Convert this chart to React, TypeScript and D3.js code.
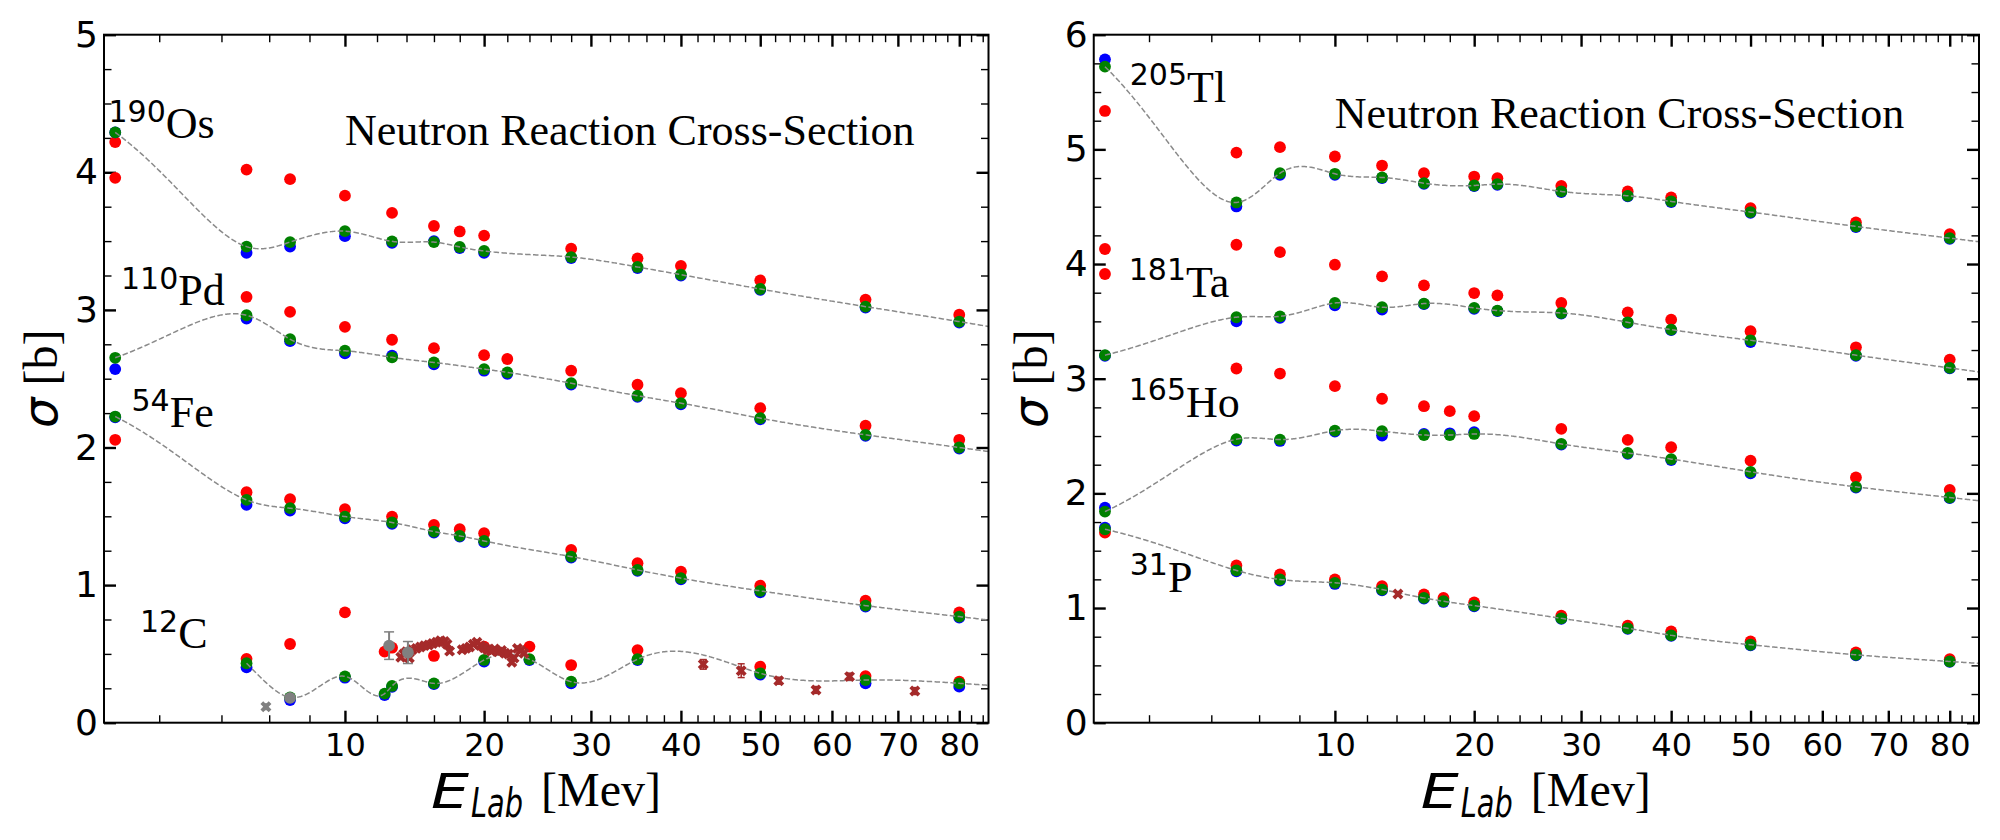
"use client";

import { useEffect, useRef } from "react";
import * as d3 from "d3";

// energies in MeV, cross-sections in barn

// 190Os
const osEnergy = [1, 5, 7, 10, 13, 16, 18, 20, 28, 35, 40, 50, 65, 80];
const osRed = [4.22, 4.02, 3.95, 3.83, 3.705, 3.61, 3.57, 3.54, 3.445, 3.375, 3.32, 3.215, 3.075, 2.965];
const osBlue = [4.29, 3.415, 3.46, 3.536, 3.488, 3.5, 3.45, 3.415, 3.377, 3.304, 3.249, 3.145, 3.017, 2.908];
const osGreen = [4.29, 3.46, 3.493, 3.572, 3.498, 3.493, 3.457, 3.428, 3.384, 3.312, 3.256, 3.152, 3.024, 2.915];

// 110Pd
const pdEnergy = [1, 5, 7, 10, 13, 16, 20, 22, 28, 35, 40, 50, 65, 80];
const pdRed = [3.96, 3.094, 2.986, 2.877, 2.783, 2.722, 2.671, 2.643, 2.558, 2.456, 2.395, 2.286, 2.158, 2.056];
const pdBlue = [2.57, 2.937, 2.773, 2.684, 2.667, 2.604, 2.558, 2.536, 2.458, 2.368, 2.314, 2.205, 2.084, 1.992];
const pdGreen = [2.652, 2.961, 2.787, 2.703, 2.655, 2.618, 2.57, 2.546, 2.467, 2.376, 2.322, 2.213, 2.092, 2.0];

// 54Fe
const feEnergy = [1, 5, 7, 10, 13, 16, 18, 20, 28, 35, 40, 50, 65, 80];
const feRed = [2.056, 1.675, 1.624, 1.552, 1.498, 1.438, 1.406, 1.377, 1.256, 1.159, 1.098, 0.996, 0.887, 0.802];
const feBlue = [2.22, 1.583, 1.542, 1.486, 1.445, 1.382, 1.353, 1.312, 1.2, 1.103, 1.042, 0.948, 0.844, 0.764];
const feGreen = [2.225, 1.619, 1.559, 1.498, 1.455, 1.389, 1.358, 1.321, 1.207, 1.11, 1.05, 0.958, 0.851, 0.771];

// 12C
const cEnergy = [5, 7, 10, 12.5, 13, 16, 20, 24, 28, 35, 50, 65, 80];
const cRed = [0.464, 0.572, 0.802, 0.516, 0.545, 0.485, 0.553, 0.553, 0.419, 0.528, 0.407, 0.339, 0.298];
const cBlue = [0.403, 0.165, 0.327, 0.201, 0.26, 0.28, 0.444, 0.455, 0.286, 0.455, 0.349, 0.286, 0.262];
const cGreen = [0.432, 0.184, 0.337, 0.211, 0.267, 0.286, 0.456, 0.461, 0.298, 0.461, 0.359, 0.31, 0.286];

// 12C measurements (brown crosses)
const cExpEnergy = [
  13.6, 13.8, 14.0, 14.2, 14.4, 14.7, 15.0, 15.3, 15.6, 15.9, 16.2, 16.5, 16.8, 17.0, 17.2,
  18.2, 18.5, 18.8, 19.1, 19.4, 19.7, 20.0, 20.3, 20.6, 20.9, 21.2, 21.5, 21.8, 22.1, 22.4,
  22.6, 22.9, 23.2, 23.5, 42.7, 47.5, 52.5, 57.7, 62.6, 72.7,
];
const cExpSigma = [
  0.475, 0.5, 0.515, 0.47, 0.53, 0.54, 0.55, 0.56, 0.565, 0.575, 0.585, 0.595, 0.59, 0.57, 0.52,
  0.53, 0.54, 0.55, 0.57, 0.585, 0.56, 0.545, 0.53, 0.52, 0.535, 0.515, 0.525, 0.505, 0.5, 0.44,
  0.47, 0.54, 0.525, 0.505, 0.424, 0.378, 0.305, 0.238, 0.335, 0.23,
];
const cExpError = [
  0.015, 0.015, 0.015, 0.015, 0.015, 0.015, 0.015, 0.015, 0.015, 0.015, 0.015, 0.015, 0.015, 0.015, 0.015,
  0.015, 0.015, 0.015, 0.015, 0.015, 0.015, 0.015, 0.015, 0.015, 0.015, 0.015, 0.015, 0.015, 0.015, 0.015,
  0.015, 0.015, 0.015, 0.015, 0.035, 0.05, 0.025, 0.025, 0.025, 0.025,
];

// 12C measurements (grey)
const cGreyEnergy = [7, 12.8, 14.1];
const cGreySigma = [0.18, 0.56, 0.51];
const cGreyError = [0.0, 0.1, 0.08];
const cGreyCrossEnergy = [5.85];
const cGreyCrossSigma = [0.116];
const cGreyCrossError = [0.02];

// 205Tl
const tlEnergy = [1, 5, 7, 10, 13, 16, 20, 22, 28, 35, 40, 50, 65, 80];
const tlRed = [5.335, 4.972, 5.019, 4.938, 4.859, 4.792, 4.763, 4.749, 4.682, 4.633, 4.581, 4.488, 4.363, 4.261];
const tlBlue = [5.785, 4.502, 4.778, 4.778, 4.75, 4.7, 4.68, 4.69, 4.628, 4.59, 4.54, 4.447, 4.322, 4.22];
const tlGreen = [5.721, 4.537, 4.792, 4.787, 4.755, 4.705, 4.685, 4.697, 4.633, 4.595, 4.546, 4.453, 4.328, 4.226];

// 181Ta
const taEnergy = [1, 5, 7, 10, 13, 16, 20, 22, 28, 35, 40, 50, 65, 80];
const taRed = [4.131, 4.168, 4.104, 3.994, 3.893, 3.814, 3.747, 3.727, 3.66, 3.579, 3.515, 3.414, 3.274, 3.167];
const taBlue = [3.2, 3.501, 3.53, 3.64, 3.602, 3.65, 3.61, 3.59, 3.568, 3.487, 3.423, 3.32, 3.2, 3.09];
const taGreen = [3.205, 3.536, 3.544, 3.66, 3.623, 3.655, 3.617, 3.594, 3.573, 3.492, 3.428, 3.335, 3.205, 3.094];

// 165Ho
const hoEnergy = [1, 5, 7, 10, 13, 16, 18, 20, 28, 35, 40, 50, 65, 80];
const hoRed = [3.913, 3.089, 3.045, 2.935, 2.825, 2.76, 2.717, 2.673, 2.562, 2.466, 2.402, 2.285, 2.139, 2.031];
const hoBlue = [1.876, 2.46, 2.457, 2.539, 2.504, 2.518, 2.524, 2.533, 2.425, 2.345, 2.29, 2.174, 2.05, 1.958];
const hoGreen = [1.841, 2.472, 2.469, 2.547, 2.542, 2.509, 2.509, 2.518, 2.431, 2.352, 2.299, 2.188, 2.057, 1.964];

// 31P
const pEnergy = [1, 5, 7, 10, 13, 16, 17.5, 20, 28, 35, 40, 50, 65, 80];
const pRed = [1.657, 1.371, 1.293, 1.249, 1.191, 1.118, 1.088, 1.05, 0.934, 0.846, 0.797, 0.709, 0.613, 0.554];
const pBlue = [1.701, 1.32, 1.24, 1.21, 1.155, 1.082, 1.053, 1.015, 0.905, 0.818, 0.757, 0.675, 0.587, 0.53];
const pGreen = [1.687, 1.328, 1.249, 1.22, 1.161, 1.088, 1.059, 1.021, 0.91, 0.823, 0.762, 0.68, 0.592, 0.534];

const pExpEnergy = [14.1];
const pExpSigma = [1.123];
const pExpError = [0.02];

// ticks
const xMajorTicks = [10, 20, 30, 40, 50, 60, 70, 80];
const leftYTicks = [0, 1, 2, 3, 4, 5];
const rightYTicks = [0, 1, 2, 3, 4, 5, 6];

interface Nucleus {
  mass: string;
  symbol: string;
  energy: number[];
  red: number[];
  blue: number[];
  green: number[];
  labelDx: number;
  labelY: number;
}

interface Measure {
  energy: number[];
  sigma: number[];
  error: number[];
  color: string;
  marker: "cross" | "circle";
}

interface Panel {
  left: number;
  right: number;
  yMax: number;
  yTicks: number[];
  titleY: number;
  nuclei: Nucleus[];
  measures: Measure[];
}

const TOP = 34.7;
const BOTTOM = 722.7;
const X_DOMAIN: [number, number] = [0.8, 85];

const SERIF = "'Liberation Serif', 'Times New Roman', serif";
const SANS = "'DejaVu Sans', sans-serif";

const panels: Panel[] = [
  {
    left: 104,
    right: 988.5,
    yMax: 5,
    yTicks: leftYTicks,
    titleY: 145,
    nuclei: [
      { mass: "190", symbol: "Os", energy: osEnergy, red: osRed, blue: osBlue, green: osGreen, labelDx: 4.5, labelY: 138 },
      { mass: "110", symbol: "Pd", energy: pdEnergy, red: pdRed, blue: pdBlue, green: pdGreen, labelDx: 17, labelY: 305 },
      { mass: "54", symbol: "Fe", energy: feEnergy, red: feRed, blue: feBlue, green: feGreen, labelDx: 27.5, labelY: 427 },
      { mass: "12", symbol: "C", energy: cEnergy, red: cRed, blue: cBlue, green: cGreen, labelDx: 36, labelY: 648 },
    ],
    measures: [
      { energy: cExpEnergy, sigma: cExpSigma, error: cExpError, color: "#a52a2a", marker: "cross" },
      { energy: cGreyCrossEnergy, sigma: cGreyCrossSigma, error: cGreyCrossError, color: "#808080", marker: "cross" },
      { energy: cGreyEnergy, sigma: cGreySigma, error: cGreyError, color: "#808080", marker: "circle" },
    ],
  },
  {
    left: 1093.75,
    right: 1979,
    yMax: 6,
    yTicks: rightYTicks,
    titleY: 128,
    nuclei: [
      { mass: "205", symbol: "Tl", energy: tlEnergy, red: tlRed, blue: tlBlue, green: tlGreen, labelDx: 36, labelY: 101.7 },
      { mass: "181", symbol: "Ta", energy: taEnergy, red: taRed, blue: taBlue, green: taGreen, labelDx: 35, labelY: 296.7 },
      { mass: "165", symbol: "Ho", energy: hoEnergy, red: hoRed, blue: hoBlue, green: hoGreen, labelDx: 35, labelY: 416.7 },
      { mass: "31", symbol: "P", energy: pEnergy, red: pRed, blue: pBlue, green: pGreen, labelDx: 36, labelY: 591.7 },
    ],
    measures: [{ energy: pExpEnergy, sigma: pExpSigma, error: pExpError, color: "#a52a2a", marker: "cross" }],
  },
];

const seriesStyle: { key: "red" | "blue" | "green"; color: string }[] = [
  { key: "red", color: "#ff0000" },
  { key: "blue", color: "#0000ff" },
  { key: "green", color: "#008000" },
];

// cubic spline (natural ends) through the green points, in linear energy,
// like the guide curve of the original figure; extended straight past the last point
function naturalSpline(xs: number[], ys: number[]) {
  const n = xs.length;
  const h = d3.range(n - 1).map((i) => xs[i + 1] - xs[i]);
  const a = new Array(n).fill(0);
  const b = new Array(n).fill(1);
  const c = new Array(n).fill(0);
  const r = new Array(n).fill(0);
  for (let i = 1; i < n - 1; i++) {
    a[i] = h[i - 1];
    b[i] = 2 * (h[i - 1] + h[i]);
    c[i] = h[i];
    r[i] = 6 * ((ys[i + 1] - ys[i]) / h[i] - (ys[i] - ys[i - 1]) / h[i - 1]);
  }
  for (let i = 1; i < n; i++) {
    const m = a[i] / b[i - 1];
    b[i] -= m * c[i - 1];
    r[i] -= m * r[i - 1];
  }
  const M = new Array(n).fill(0);
  M[n - 1] = r[n - 1] / b[n - 1];
  for (let i = n - 2; i >= 0; i--) M[i] = (r[i] - c[i] * M[i + 1]) / b[i];

  return (t: number) => {
    if (t >= xs[n - 1]) {
      const i = n - 2;
      const slope = (ys[n - 1] - ys[i]) / h[i] + (h[i] * (M[i] + 2 * M[n - 1])) / 6;
      return ys[n - 1] + slope * (t - xs[n - 1]);
    }
    const i = Math.max(0, Math.min(n - 2, d3.bisectRight(xs, t) - 1));
    const A = (xs[i + 1] - t) / h[i];
    const B = (t - xs[i]) / h[i];
    return A * ys[i] + B * ys[i + 1] + (((A ** 3 - A) * M[i] + (B ** 3 - B) * M[i + 1]) * h[i] * h[i]) / 6;
  };
}

function drawPanel(svg: d3.Selection<SVGSVGElement, unknown, null, undefined>, p: Panel) {
  const x = d3.scalePow().exponent(0.5).domain(X_DOMAIN).range([p.left, p.right]);
  const y = d3.scaleLinear().domain([0, p.yMax]).range([BOTTOM, TOP]);

  const xMinor = d3.range(2, 85, 2).filter((v) => v % 10 !== 0);
  const yMinor = d3.range(0, p.yMax + 0.001, 0.25).filter((v) => v % 1 !== 0);

  const g = svg.append("g");

  const tidy = (major: boolean) => (sel: d3.Selection<SVGGElement, unknown, null, undefined>) => {
    sel.select(".domain").remove();
    sel.selectAll("line").attr("stroke", "#000").attr("stroke-width", major ? 2.4 : 1.4);
  };

  // bottom
  g.append("g")
    .attr("transform", `translate(0,${BOTTOM})`)
    .call(d3.axisBottom(x).tickValues(xMinor).tickSize(-7.5).tickFormat(() => ""))
    .call(tidy(false));
  g.append("g")
    .attr("transform", `translate(0,${BOTTOM})`)
    .call(d3.axisBottom(x).tickValues(xMajorTicks).tickSize(-12).tickPadding(10.6).tickFormat(d3.format("d")))
    .call(tidy(true))
    .attr("font-size", 32)
    .attr("font-family", SANS);

  // top
  g.append("g")
    .attr("transform", `translate(0,${TOP})`)
    .call(d3.axisTop(x).tickValues(xMinor).tickSize(-7.5).tickFormat(() => ""))
    .call(tidy(false));
  g.append("g")
    .attr("transform", `translate(0,${TOP})`)
    .call(d3.axisTop(x).tickValues(xMajorTicks).tickSize(-12).tickFormat(() => ""))
    .call(tidy(true));

  // left
  g.append("g")
    .attr("transform", `translate(${p.left},0)`)
    .call(d3.axisLeft(y).tickValues(yMinor).tickSize(-7.5).tickFormat(() => ""))
    .call(tidy(false));
  g.append("g")
    .attr("transform", `translate(${p.left},0)`)
    .call(d3.axisLeft(y).tickValues(p.yTicks).tickSize(-12).tickPadding(6).tickFormat(d3.format("d")))
    .call(tidy(true))
    .attr("font-size", 36)
    .attr("font-family", SANS);

  // right
  g.append("g")
    .attr("transform", `translate(${p.right},0)`)
    .call(d3.axisRight(y).tickValues(yMinor).tickSize(-7.5).tickFormat(() => ""))
    .call(tidy(false));
  g.append("g")
    .attr("transform", `translate(${p.right},0)`)
    .call(d3.axisRight(y).tickValues(p.yTicks).tickSize(-12).tickFormat(() => ""))
    .call(tidy(true));

  // model points
  for (const s of seriesStyle) {
    for (const n of p.nuclei) {
      const pts = n.energy.map((e, i) => [e, n[s.key][i]] as [number, number]);
      g.append("g")
        .selectAll("circle")
        .data(pts)
        .join("circle")
        .attr("cx", (d) => x(d[0]))
        .attr("cy", (d) => y(d[1]))
        .attr("r", 5.9)
        .attr("fill", s.color);
    }
  }

  // dashed guide curve through the green points
  const xLo = Math.sqrt(X_DOMAIN[0]);
  const xHi = Math.sqrt(X_DOMAIN[1]);
  for (const n of p.nuclei) {
    const f = naturalSpline(n.energy, n.green);
    const start = Math.sqrt(n.energy[0]);
    const steps = d3.range(start, xHi + 1e-9, (xHi - xLo) / 700).map((s) => s * s);
    const pts = steps.map((e) => [x(e), y(f(e))] as [number, number]);
    g.append("path")
      .attr("d", d3.line()(pts))
      .attr("fill", "none")
      .attr("stroke", "#8a8a8a")
      .attr("stroke-width", 1.5)
      .attr("stroke-dasharray", "5.5,2.4");
  }

  // measurements
  const cross = d3.symbol(d3.symbolCross, 75);
  for (const m of p.measures) {
    const pts = m.energy.map((e, i) => ({ e, s: m.sigma[i], err: m.error[i] }));
    const mg = g.append("g").attr("fill", m.color).attr("stroke", m.color);
    const bars = mg.selectAll("g.bar").data(pts.filter((d) => d.err > 0)).join("g").attr("class", "bar");
    bars
      .append("line")
      .attr("x1", (d) => x(d.e))
      .attr("x2", (d) => x(d.e))
      .attr("y1", (d) => y(d.s - d.err))
      .attr("y2", (d) => y(d.s + d.err))
      .attr("stroke-width", m.marker === "circle" ? 2 : 1.5);
    const cap = m.marker === "circle" ? 5 : 3.5;
    for (const sign of [-1, 1]) {
      bars
        .append("line")
        .attr("x1", (d) => x(d.e) - cap)
        .attr("x2", (d) => x(d.e) + cap)
        .attr("y1", (d) => y(d.s + sign * d.err))
        .attr("y2", (d) => y(d.s + sign * d.err))
        .attr("stroke-width", 1.5);
    }
    if (m.marker === "circle") {
      mg.selectAll("circle")
        .data(pts)
        .join("circle")
        .attr("cx", (d) => x(d.e))
        .attr("cy", (d) => y(d.s))
        .attr("r", 5.9)
        .attr("stroke", "none");
    } else {
      mg.selectAll("path.mk")
        .data(pts)
        .join("path")
        .attr("class", "mk")
        .attr("d", cross)
        .attr("stroke", "none")
        .attr("transform", (d) => `translate(${x(d.e)},${y(d.s)}) rotate(45)`);
    }
  }

  // nucleus labels
  for (const n of p.nuclei) {
    const t = g
      .append("text")
      .attr("x", p.left + n.labelDx)
      .attr("y", n.labelY)
      .attr("font-family", SERIF)
      .attr("font-size", 44);
    t.append("tspan").attr("font-family", SANS).attr("font-size", 30).attr("dy", -16.5).text(n.mass);
    t.append("tspan").attr("dy", 16.5).text(n.symbol);
  }

  // title
  g.append("text")
    .attr("x", p.left + 241)
    .attr("y", p.titleY)
    .attr("font-family", SERIF)
    .attr("font-size", 44)
    .text("Neutron Reaction Cross-Section");

  // x label
  g.append("text")
    .attr("x", p.left + 327)
    .attr("y", 808)
    .attr("font-family", SANS)
    .attr("font-style", "italic")
    .attr("font-size", 48)
    .attr("textLength", 38)
    .attr("lengthAdjust", "spacingAndGlyphs")
    .text("E");
  g.append("text")
    .attr("x", p.left + 367)
    .attr("y", 816.5)
    .attr("font-family", SANS)
    .attr("font-style", "italic")
    .attr("font-size", 40)
    .attr("textLength", 52)
    .attr("lengthAdjust", "spacingAndGlyphs")
    .text("Lab");
  g.append("text")
    .attr("x", p.left + 437)
    .attr("y", 806)
    .attr("font-family", SERIF)
    .attr("font-size", 48)
    .text("[Mev]");

  // y label
  const yl = g
    .append("text")
    .attr("transform", `translate(${p.left - 47},${(TOP + BOTTOM) / 2}) rotate(-90)`)
    .attr("text-anchor", "middle")
    .attr("font-size", 48);
  yl.append("tspan").attr("font-family", SANS).attr("font-style", "italic").text("σ");
  yl.append("tspan").attr("font-family", SERIF).text(" [b]");

  // frame
  g.append("rect")
    .attr("x", p.left)
    .attr("y", TOP)
    .attr("width", p.right - p.left)
    .attr("height", BOTTOM - TOP)
    .attr("fill", "none")
    .attr("stroke", "#000")
    .attr("stroke-width", 2);
}

export default function App() {
  const svgRef = useRef<SVGSVGElement>(null);

  useEffect(() => {
    if (!svgRef.current) return;
    const svg = d3.select(svgRef.current);
    svg.selectAll("*").remove();
    svg.append("rect").attr("width", 2000).attr("height", 840).attr("fill", "#fff");
    for (const p of panels) drawPanel(svg, p);
  }, []);

  return (
    <svg
      ref={svgRef}
      width={2000}
      height={840}
      style={{ position: "absolute", left: 0, top: 0, display: "block" }}
    />
  );
}
